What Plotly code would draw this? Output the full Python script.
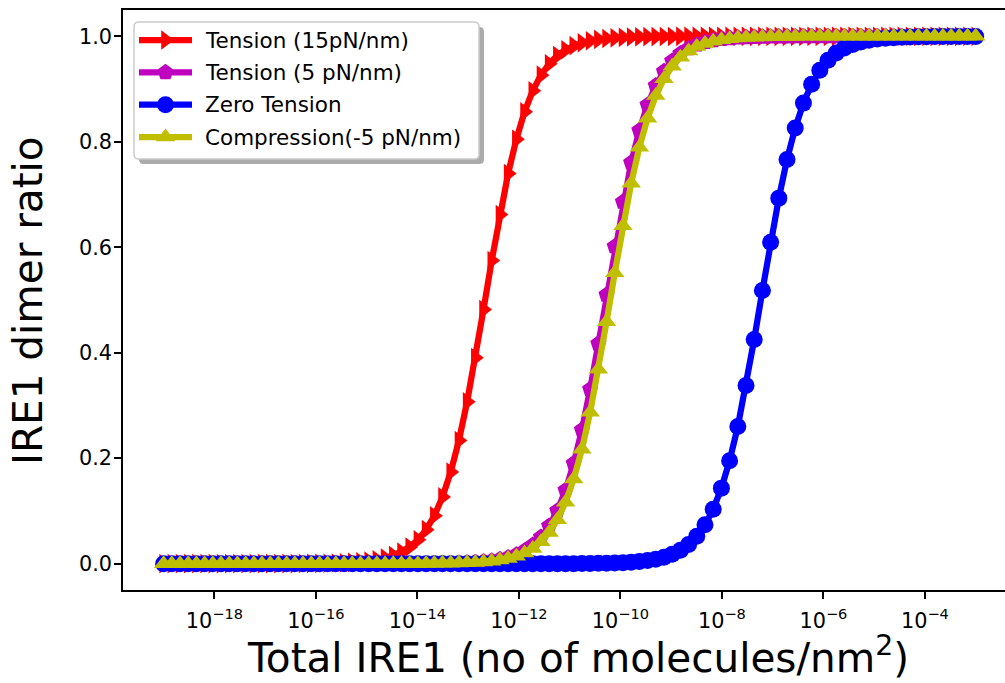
import numpy as np
import plotly.graph_objects as go

# Total IRE1 density grid (molecules/nm^2), log-spaced
total_ire1 = np.logspace(-19, -3, 100)

# IRE1 dimer ratio for each membrane condition
tension_15 = [
    0, 0, 0, 0, 0, 0, 0, 0, 0, 0, 0, 0, 0, 0, 0, 0, 0,
    0.0003, 0.0004, 0.0006, 0.0008, 0.0012, 0.0017, 0.0024, 0.0035, 0.0051, 0.0073,
    0.0106, 0.0153, 0.0220, 0.0316, 0.0453, 0.0644, 0.0907, 0.1266, 0.1738, 0.2336,
    0.3068, 0.3906, 0.4821, 0.5748, 0.6620, 0.7399, 0.8047, 0.8568, 0.8968, 0.9264,
    0.9481, 0.9637, 0.9747, 0.9824, 0.9878, 0.9916, 0.9942, 0.9960, 0.9972, 0.9981,
    0.9987, 0.9991, 0.9994, 0.9996, 0.9997, 0.9998,
    1, 1, 1, 1, 1, 1, 1, 1, 1, 1, 1, 1, 1, 1, 1, 1, 1, 1, 1, 1,
    1, 1, 1, 1, 1, 1, 1, 1, 1, 1, 1, 1, 1, 1, 1, 1, 1,
]
tension_5 = [
    0, 0, 0, 0, 0, 0, 0, 0, 0, 0, 0, 0, 0, 0, 0, 0,
    0, 0, 0, 0, 0, 0, 0, 0, 0, 0, 0, 0, 0, 0, 0, 0,
    0.0003, 0.0004, 0.0006, 0.0009, 0.0013, 0.0019, 0.0027, 0.0039, 0.0056, 0.0082,
    0.0118, 0.0170, 0.0246, 0.0352, 0.0503, 0.0714, 0.1003, 0.1393, 0.1903, 0.2539,
    0.3308, 0.4173, 0.5098, 0.6016, 0.6863, 0.7606, 0.8215, 0.8699, 0.9066, 0.9336,
    0.9533, 0.9674, 0.9772, 0.9842, 0.9891, 0.9924, 0.9948, 0.9964, 0.9975, 0.9983,
    0.9988, 0.9992, 0.9994, 0.9996, 0.9997, 0.9998,
    1, 1, 1, 1, 1, 1, 1, 1, 1, 1, 1, 1, 1, 1, 1, 1, 1, 1, 1, 1, 1, 1,
]
zero_tension = [
    0, 0, 0, 0, 0, 0, 0, 0, 0, 0, 0, 0, 0, 0, 0, 0, 0, 0, 0, 0, 0, 0, 0, 0, 0,
    0, 0, 0, 0, 0, 0, 0, 0, 0, 0, 0, 0, 0, 0, 0, 0, 0, 0, 0, 0, 0, 0, 0, 0, 0, 0,
    0.0003, 0.0004, 0.0006, 0.0009, 0.0013, 0.0019, 0.0028, 0.0040, 0.0058, 0.0084,
    0.0122, 0.0176, 0.0253, 0.0363, 0.0519, 0.0736, 0.1032, 0.1432, 0.1953, 0.2601,
    0.3380, 0.4252, 0.5179, 0.6094, 0.6932, 0.7664, 0.8262, 0.8734, 0.9093, 0.9356,
    0.9547, 0.9684, 0.9780, 0.9847, 0.9894, 0.9927, 0.9949, 0.9965, 0.9976, 0.9983,
    0.9988, 0.9992, 0.9994, 0.9996, 0.9997, 0.9998, 0.9999, 0.9999, 0.9999,
]
compression_5 = [
    0, 0, 0, 0, 0, 0, 0, 0, 0, 0, 0, 0, 0, 0, 0, 0,
    0, 0, 0, 0, 0, 0, 0, 0, 0, 0, 0, 0, 0, 0, 0, 0,
    0.0002, 0.0003, 0.0005, 0.0007, 0.0010, 0.0015, 0.0022, 0.0032, 0.0046, 0.0067,
    0.0097, 0.0139, 0.0201, 0.0289, 0.0414, 0.0590, 0.0832, 0.1165, 0.1607, 0.2171,
    0.2871, 0.3685, 0.4587, 0.5516, 0.6406, 0.7213, 0.7895, 0.8448, 0.8877, 0.9197,
    0.9433, 0.9602, 0.9722, 0.9807, 0.9866, 0.9907, 0.9936, 0.9956, 0.9969, 0.9979,
    0.9985, 0.9990, 0.9993, 0.9995, 0.9997, 0.9998,
    1, 1, 1, 1, 1, 1, 1, 1, 1, 1, 1, 1, 1, 1, 1, 1, 1, 1, 1, 1, 1, 1,
]

series_names = ["Tension (15pN/nm)", "Tension (5 pN/nm)", "Zero Tension", "Compression(-5 pN/nm)"]
series_values = [tension_15, tension_5, zero_tension, compression_5]
series_colors = ["#ff0000", "#bf00bf", "#0000ff", "#bfbf00"]
series_symbols = ["triangle-right", "pentagon", "circle", "triangle-up"]
series_sizes = [17, 17, 17, 17]

x_tick_exponents = [-18, -16, -14, -12, -10, -8, -6, -4]
y_ticks = [0.0, 0.2, 0.4, 0.6, 0.8, 1.0]

FONT = "DejaVu Sans"
W, H = 1005, 683
L, R, T, B = 123, 0, 10, 93
PW, PH = W - L - R, H - T - B
LINE_W = 6.25


def px(x):
    return (x - L) / PW


def py(y):
    return (H - B - y) / PH


fig = go.Figure()
for name, vals, col, sym, sz in zip(series_names, series_values, series_colors,
                                    series_symbols, series_sizes):
    fig.add_trace(go.Scatter(
        x=total_ire1, y=vals, name=name, mode="lines+markers", showlegend=False,
        line=dict(color=col, width=LINE_W),
        marker=dict(symbol=sym, size=sz, color=col, line=dict(width=0)),
    ))

# ---- legend drawn on a pixel-unit overlay (x right, y down) ----
def rounded_outline(x0, y0, x1, y1, r, n=8):
    xs, ys = [], []
    corners = [(x1 - r, y0 + r, -90, 0), (x1 - r, y1 - r, 0, 90),
               (x0 + r, y1 - r, 90, 180), (x0 + r, y0 + r, 180, 270)]
    for cx, cy, a0, a1 in corners:
        for a in np.linspace(np.radians(a0), np.radians(a1), n):
            xs.append(cx + r * np.cos(a))
            ys.append(cy + r * np.sin(a))
    xs.append(xs[0])
    ys.append(ys[0])
    return xs, ys


bx0, by0, bx1, by1 = 134, 22, 479, 159
sx, sy = rounded_outline(bx0 + 5, by0 + 5, bx1 + 5, by1 + 5, 4)
fig.add_trace(go.Scatter(x=sx, y=sy, xaxis="x2", yaxis="y2", mode="lines",
                         fill="toself", fillcolor="rgba(0,0,0,0.33)",
                         line=dict(width=0), hoverinfo="skip", showlegend=False))
fx, fy = rounded_outline(bx0, by0, bx1, by1, 4)
fig.add_trace(go.Scatter(x=fx, y=fy, xaxis="x2", yaxis="y2", mode="lines",
                         fill="toself", fillcolor="white",
                         line=dict(color="#cccccc", width=1.5),
                         hoverinfo="skip", showlegend=False))

entry_y = [40, 72.3, 104.7, 137]
for name, col, sym, sz, ey in zip(series_names, series_colors, series_symbols,
                                  series_sizes, entry_y):
    fig.add_trace(go.Scatter(x=[139, 192], y=[ey, ey], xaxis="x2", yaxis="y2",
                             mode="lines", line=dict(color=col, width=LINE_W),
                             hoverinfo="skip", showlegend=False))
    fig.add_trace(go.Scatter(x=[165.5], y=[ey], xaxis="x2", yaxis="y2",
                             mode="markers",
                             marker=dict(symbol=sym, size=sz, color=col, line=dict(width=0)),
                             hoverinfo="skip", showlegend=False))
    fig.add_annotation(text=name, xref="paper", yref="paper", x=px(203), y=py(ey),
                       xanchor="left", yanchor="middle", showarrow=False,
                       font=dict(family=FONT, size=21.5, color="black"))

fig.add_annotation(text="Total IRE1 (no of molecules/nm<sup>2</sup>)",
                   xref="paper", yref="paper", x=px(578), y=py(655),
                   xanchor="center", yanchor="middle", showarrow=False,
                   font=dict(family=FONT, size=40.5, color="black"))
fig.add_annotation(text="IRE1 dimer ratio", textangle=-90,
                   xref="paper", yref="paper", x=px(28), y=py(301),
                   xanchor="center", yanchor="middle", showarrow=False,
                   font=dict(family=FONT, size=40.5, color="black"))

fig.update_layout(
    width=W, height=H,
    margin=dict(l=L, r=R, t=T, b=B, pad=0),
    paper_bgcolor="white", plot_bgcolor="white",
    font=dict(family=FONT, color="black"),
    showlegend=False,
    xaxis=dict(
        type="log", range=[-19.8, -2.4225],
        tickvals=[10.0 ** e for e in x_tick_exponents],
        ticktext=[f"10<sup>\u2212{abs(e)}</sup>" for e in x_tick_exponents],
        ticks="outside", ticklen=7, tickwidth=1.6, tickcolor="black",
        ticklabelstandoff=4,
        tickfont=dict(family=FONT, size=20.8, color="black"),
        showline=True, linecolor="black", linewidth=1.6, mirror=True,
        showgrid=False, zeroline=False,
    ),
    yaxis=dict(
        range=[-0.05, 1.05], tickvals=y_ticks, tickformat=".1f",
        ticks="outside", ticklen=7, tickwidth=1.6, tickcolor="black",
        ticklabelstandoff=-2,
        tickfont=dict(family=FONT, size=20.8, color="black"),
        showline=True, linecolor="black", linewidth=1.6, mirror=False,
        showgrid=False, zeroline=False,
    ),
    xaxis2=dict(overlaying="x", anchor="y2", range=[L, W], visible=False, fixedrange=True),
    yaxis2=dict(overlaying="y", anchor="x2", range=[H - B, T], visible=False, fixedrange=True),
)

fig.write_html("out.html")
